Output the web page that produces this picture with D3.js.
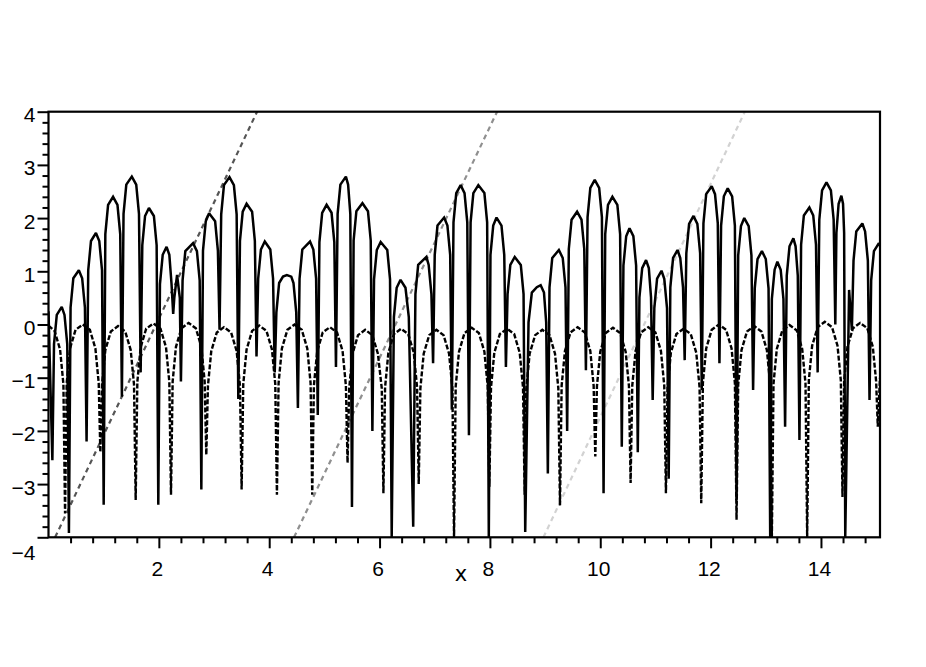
<!DOCTYPE html>
<html>
<head>
<meta charset="utf-8">
<script src="https://cdn.jsdelivr.net/npm/d3@7"></script>
<style>
body { margin: 0; background: #fff; }
</style>
</head>
<body>
<div id="chart"></div>
<script>
var xTicks = [2, 4, 6, 8, 10, 12, 14];
var yTicks = [4, 3, 2, 1, 0, -1, -2, -3, -4];

// straight grey dashed lines: x where they leave the bottom (-4) and reach the top (4)
var guideStart = [0.12, 4.45, 8.97];
var guideEnd = [3.78, 8.13, 12.62];
var guideColors = ['#555555', '#8f8f8f', '#d2d2d2'];

// solid curve (dips, shoulders, peaks)
var solidCurve = [
  [0.00, 0.25], [0.07, -2.55],
  [0.10, -0.37], [0.15, 0.18], [0.24, 0.33], [0.29, 0.18], [0.34, -0.37], [0.37, -3.92],
  [0.40, 0.32], [0.45, 0.87], [0.55, 1.02], [0.61, 0.87], [0.66, 0.32], [0.69, -2.2],
  [0.72, 1.02], [0.77, 1.57], [0.86, 1.72], [0.92, 1.57], [0.97, 1.02], [1.00, -3.39],
  [1.03, 1.7], [1.08, 2.25], [1.17, 2.40], [1.25, 2.25], [1.30, 1.7], [1.33, -1.36],
  [1.36, 2.08], [1.41, 2.63], [1.51, 2.78], [1.59, 2.63], [1.64, 2.08], [1.67, -0.9],
  [1.70, 1.49], [1.75, 2.04], [1.82, 2.19], [1.91, 2.04], [1.96, 1.49], [1.99, -3.39],
  [2.02, 0.76], [2.07, 1.31], [2.14, 1.46], [2.19, 1.31], [2.23, 0.76], [2.26, 0.2],
  [2.28, 0.5], [2.33, 0.93], [2.38, 0.5], [2.40, -1.07],
  [2.43, 0.83], [2.48, 1.38], [2.62, 1.53], [2.69, 1.38], [2.74, 0.83], [2.77, -3.1],
  [2.80, 1.39], [2.85, 1.94], [2.91, 2.09], [3.02, 1.94], [3.07, 1.39], [3.10, -0.1],
  [3.13, 2.07], [3.18, 2.62], [3.28, 2.77], [3.36, 2.62], [3.41, 2.07], [3.44, -1.4],
  [3.47, 1.57], [3.52, 2.12], [3.59, 2.27], [3.69, 2.12], [3.74, 1.57], [3.77, -0.6],
  [3.80, 0.86], [3.85, 1.41], [3.92, 1.56], [4.02, 1.41], [4.07, 0.86], [4.10, -0.9],
  [4.13, 0.23], [4.18, 0.78], [4.25, 0.9], [4.32, 0.93], [4.40, 0.9], [4.44, 0.78], [4.49, 0.23], [4.52, -1.57],
  [4.55, 0.86], [4.60, 1.41], [4.74, 1.56], [4.80, 1.41], [4.85, 0.86], [4.88, -1.7],
  [4.91, 1.55], [4.96, 2.10], [5.04, 2.25], [5.13, 2.10], [5.18, 1.55], [5.21, -0.8],
  [5.24, 2.08], [5.29, 2.63], [5.39, 2.78], [5.43, 2.63], [5.47, 2.08], [5.50, -3.43],
  [5.53, 1.58], [5.58, 2.13], [5.69, 2.28], [5.79, 2.13], [5.84, 1.58], [5.87, -2.0],
  [5.90, 0.85], [5.95, 1.40], [6.02, 1.55], [6.14, 1.40], [6.19, 0.85], [6.22, -4.0],
  [6.26, 0.14], [6.31, 0.69], [6.38, 0.84], [6.47, 0.69], [6.53, 0.14], [6.61, -3.8],
  [6.65, 0.57], [6.70, 1.12], [6.85, 1.27], [6.89, 1.12], [6.94, 0.57], [6.97, -0.73],
  [7.00, 1.31], [7.05, 1.86], [7.17, 2.01], [7.23, 1.86], [7.28, 1.31], [7.31, -1.6],
  [7.34, 1.92], [7.39, 2.47], [7.47, 2.62], [7.54, 2.47], [7.59, 1.92], [7.62, -2.08],
  [7.65, 1.92], [7.70, 2.47], [7.79, 2.62], [7.90, 2.47], [7.95, 1.92], [7.98, -4.0],
  [8.01, 1.31], [8.06, 1.86], [8.12, 2.01], [8.21, 1.86], [8.26, 1.31], [8.29, -0.8],
  [8.32, 0.57], [8.37, 1.12], [8.45, 1.27], [8.56, 1.12], [8.61, 0.57], [8.64, -3.9],
  [8.70, 0.04], [8.76, 0.6], [8.85, 0.7], [8.92, 0.74], [8.98, 0.6], [9.02, 0.04], [9.05, -2.8],
  [9.08, 0.7], [9.13, 1.25], [9.25, 1.40], [9.32, 1.25], [9.37, 0.7], [9.40, -2.0],
  [9.43, 1.42], [9.48, 1.97], [9.58, 2.12], [9.66, 1.97], [9.71, 1.42], [9.74, -0.86],
  [9.77, 2.02], [9.82, 2.57], [9.90, 2.72], [9.98, 2.57], [10.03, 2.02], [10.06, -3.17],
  [10.09, 1.7], [10.14, 2.25], [10.22, 2.40], [10.31, 2.25], [10.36, 1.7], [10.39, -2.3],
  [10.42, 1.11], [10.47, 1.66], [10.53, 1.81], [10.60, 1.66], [10.65, 1.11], [10.68, -2.4],
  [10.71, 0.51], [10.76, 1.06], [10.83, 1.21], [10.88, 1.06], [10.92, 0.51], [10.95, -1.42],
  [10.98, 0.31], [11.03, 0.86], [11.11, 1.01], [11.16, 0.86], [11.21, 0.31], [11.24, -2.9],
  [11.27, 0.7], [11.32, 1.25], [11.40, 1.40], [11.45, 1.25], [11.50, 0.7], [11.53, -0.67],
  [11.56, 1.34], [11.61, 1.89], [11.69, 2.04], [11.76, 1.89], [11.81, 1.34], [11.84, -1.23],
  [11.87, 1.9], [11.92, 2.45], [12.02, 2.60], [12.08, 2.45], [12.13, 1.9], [12.16, -0.73],
  [12.19, 1.86], [12.24, 2.41], [12.31, 2.56], [12.39, 2.41], [12.44, 1.86], [12.47, -3.3],
  [12.50, 1.3], [12.55, 1.85], [12.61, 2.00], [12.69, 1.85], [12.74, 1.3], [12.77, -1.23],
  [12.80, 0.68], [12.85, 1.23], [12.93, 1.38], [13.00, 1.23], [13.05, 0.68], [13.08, -4.0],
  [13.11, 0.48], [13.16, 1.03], [13.21, 1.18], [13.27, 1.03], [13.32, 0.48], [13.35, -1.92],
  [13.38, 0.92], [13.43, 1.47], [13.50, 1.62], [13.54, 1.47], [13.58, 0.92], [13.61, -2.17],
  [13.64, 1.5], [13.69, 2.05], [13.79, 2.20], [13.86, 2.05], [13.91, 1.5], [13.94, -0.9],
  [13.97, 1.97], [14.02, 2.52], [14.10, 2.67], [14.18, 2.52], [14.23, 1.97], [14.26, 0.0],
  [14.28, 1.72], [14.32, 2.27], [14.37, 2.42], [14.40, 2.27], [14.42, 1.72], [14.44, -4.0],
  [14.51, 0.65], [14.56, -0.1],
  [14.59, 1.2], [14.64, 1.75], [14.75, 1.90], [14.80, 1.75], [14.85, 1.2], [14.88, -1.42],
  [14.91, 0.83], [14.96, 1.38], [15.05, 1.53], [15.08, 1.45]
];

// dashed curve
var dashedCurve = [
  [0.00, -0.02], [0.11, -0.12], [0.21, -0.47], [0.27, -1.12], [0.30, -3.55],
  [0.33, -1.1], [0.39, -0.45], [0.49, -0.1], [0.62, 0.0], [0.75, -0.1], [0.85, -0.45], [0.91, -1.1], [0.94, -2.4],
  [0.97, -1.13], [1.03, -0.48], [1.13, -0.13], [1.26, -0.03], [1.39, -0.13], [1.49, -0.48], [1.55, -1.13], [1.58, -3.3],
  [1.61, -1.08], [1.67, -0.43], [1.77, -0.08], [1.90, 0.02], [2.03, -0.08], [2.13, -0.43], [2.19, -1.08], [2.22, -3.2],
  [2.25, -1.07], [2.31, -0.42], [2.41, -0.07], [2.54, 0.03], [2.67, -0.07], [2.77, -0.42], [2.83, -1.07], [2.86, -2.45],
  [2.89, -1.15], [2.95, -0.5], [3.05, -0.15], [3.18, -0.05], [3.31, -0.15], [3.41, -0.5], [3.47, -1.15], [3.50, -3.1],
  [3.53, -1.12], [3.59, -0.47], [3.69, -0.12], [3.82, -0.02], [3.95, -0.12], [4.05, -0.47], [4.11, -1.12], [4.14, -3.2],
  [4.17, -1.1], [4.23, -0.45], [4.33, -0.1], [4.46, 0.0], [4.59, -0.1], [4.69, -0.45], [4.75, -1.1], [4.78, -3.2],
  [4.81, -1.15], [4.87, -0.5], [4.97, -0.15], [5.10, -0.05], [5.23, -0.15], [5.33, -0.5], [5.39, -1.15], [5.42, -2.6],
  [5.45, -1.2], [5.51, -0.55], [5.61, -0.2], [5.74, -0.1], [5.87, -0.2], [5.97, -0.55], [6.04, -1.2], [6.07, -3.17],
  [6.10, -1.18], [6.16, -0.53], [6.26, -0.18], [6.39, -0.08], [6.52, -0.18], [6.62, -0.53], [6.68, -1.18], [6.71, -3.0],
  [6.74, -1.2], [6.80, -0.55], [6.90, -0.2], [7.03, -0.1], [7.16, -0.2], [7.26, -0.55], [7.32, -1.2], [7.35, -4.0],
  [7.38, -1.16], [7.44, -0.51], [7.54, -0.16], [7.67, -0.06], [7.80, -0.16], [7.90, -0.51], [7.96, -1.16], [7.99, -3.05],
  [8.02, -1.18], [8.08, -0.53], [8.18, -0.18], [8.31, -0.08], [8.44, -0.18], [8.54, -0.53], [8.60, -1.18], [8.63, -3.2],
  [8.66, -1.2], [8.72, -0.55], [8.82, -0.2], [8.95, -0.1], [9.08, -0.2], [9.18, -0.55], [9.24, -1.2], [9.27, -3.4],
  [9.30, -1.15], [9.36, -0.5], [9.46, -0.15], [9.59, -0.05], [9.72, -0.15], [9.82, -0.5], [9.88, -1.15], [9.91, -2.48],
  [9.94, -1.16], [10.00, -0.51], [10.10, -0.16], [10.23, -0.06], [10.36, -0.16], [10.46, -0.51], [10.52, -1.16], [10.55, -2.98],
  [10.58, -1.15], [10.64, -0.5], [10.74, -0.15], [10.87, -0.05], [11.00, -0.15], [11.10, -0.5], [11.16, -1.15], [11.19, -3.17],
  [11.22, -1.18], [11.28, -0.53], [11.38, -0.18], [11.51, -0.08], [11.64, -0.18], [11.74, -0.53], [11.80, -1.18], [11.83, -3.36],
  [11.86, -1.1], [11.92, -0.45], [12.02, -0.1], [12.15, 0.0], [12.28, -0.1], [12.38, -0.45], [12.44, -1.1], [12.47, -3.67],
  [12.50, -1.13], [12.56, -0.48], [12.66, -0.13], [12.79, -0.03], [12.92, -0.13], [13.02, -0.48], [13.08, -1.13], [13.11, -4.0],
  [13.14, -1.11], [13.20, -0.46], [13.30, -0.11], [13.43, -0.01], [13.56, -0.11], [13.66, -0.46], [13.72, -1.11], [13.75, -4.0],
  [13.78, -1.05], [13.84, -0.4], [13.94, -0.05], [14.07, 0.05], [14.20, -0.05], [14.30, -0.4], [14.36, -1.05], [14.39, -3.24],
  [14.42, -1.07], [14.48, -0.42], [14.58, -0.07], [14.71, 0.03], [14.84, -0.07], [14.94, -0.42], [15.00, -1.07], [15.03, -1.92],
  [15.07, -1.0]
];

var width = 926, height = 667;
var plotLeft = 48.5, plotRight = 880, plotTop = 111.7, plotBottom = 537.3;

var svg = d3.select("#chart")
            .append("svg")
            .attr("width", width)
            .attr("height", height)
            .style("font-family", "'DejaVu Sans', sans-serif");

var x = d3.scaleLinear().domain([0, 15.07]).range([plotLeft, plotRight]);
var y = d3.scaleLinear().domain([-4, 4]).range([plotBottom, plotTop]);

svg.append("clipPath").attr("id", "plot")
    .append("rect")
    .attr("x", plotLeft).attr("y", plotTop)
    .attr("width", plotRight - plotLeft).attr("height", plotBottom - plotTop);

var line = d3.line()
            .x((d) => x(d[0]))
            .y((d) => y(d[1]));

var plot = svg.append("g").attr("clip-path", "url(#plot)");

// grey guide lines
plot.selectAll(".guide")
    .data(guideStart)
    .enter()
    .append("path")
    .attr("d", (d, i) => line([[d, -4], [guideEnd[i], 4]]))
    .attr("fill", "none")
    .attr("stroke", (d, i) => guideColors[i])
    .attr("stroke-width", 2.2)
    .attr("stroke-dasharray", "5,4");

plot.append("path")
    .attr("d", line(dashedCurve))
    .attr("fill", "none")
    .attr("stroke", "#000")
    .attr("stroke-width", 2.4)
    .attr("stroke-dasharray", "5,2");

plot.append("path")
    .attr("d", line(solidCurve))
    .attr("fill", "none")
    .attr("stroke", "#000")
    .attr("stroke-width", 2.5)
    .attr("stroke-linejoin", "miter")
    .attr("stroke-miterlimit", 2);

// minor ticks
var xMinor = d3.range(0.4, 15.01, 0.4).filter((v) => Math.abs(v / 2 - Math.round(v / 2)) > 0.01);
var yMinor = d3.range(-3.8, 4, 0.2).filter((v) => Math.abs(v - Math.round(v)) > 0.01);

svg.append("g")
    .attr("transform", "translate(0," + plotBottom + ")")
    .call(d3.axisBottom(x).tickValues(xMinor).tickSize(6).tickFormat(""))
    .call((g) => g.select(".domain").remove());

svg.append("g")
    .attr("transform", "translate(" + plotLeft + ",0)")
    .call(d3.axisLeft(y).tickValues(yMinor).tickSize(6).tickFormat(""))
    .call((g) => g.select(".domain").remove());

// major ticks + labels
var xAxis = svg.append("g")
    .attr("transform", "translate(0," + plotBottom + ")")
    .call(d3.axisBottom(x).tickValues(xTicks).tickSize(11))
    .call((g) => g.select(".domain").remove());
xAxis.selectAll("text")
    .attr("y", 39).attr("dy", null).attr("x", -2)
    .style("font-size", "21px").attr("fill", "#000");

var yAxis = svg.append("g")
    .attr("transform", "translate(" + plotLeft + ",0)")
    .call(d3.axisLeft(y).tickValues(yTicks).tickSize(11))
    .call((g) => g.select(".domain").remove());
yAxis.selectAll("text")
    .attr("x", -13)
    .attr("dy", null)
    .attr("y", (d) => d === -4 ? 22 : 10)
    .style("font-size", "21px").attr("fill", "#000");

svg.selectAll(".tick line").attr("stroke", "#000").attr("stroke-width", 2);

// frame
svg.append("rect")
    .attr("x", plotLeft).attr("y", plotTop)
    .attr("width", plotRight - plotLeft).attr("height", plotBottom - plotTop)
    .attr("fill", "none")
    .attr("stroke", "#000")
    .attr("stroke-width", 2.2);

svg.append("text")
    .attr("x", 461).attr("y", 581)
    .attr("text-anchor", "middle")
    .style("font-size", "21px")
    .text("x");
</script>
</body>
</html>
